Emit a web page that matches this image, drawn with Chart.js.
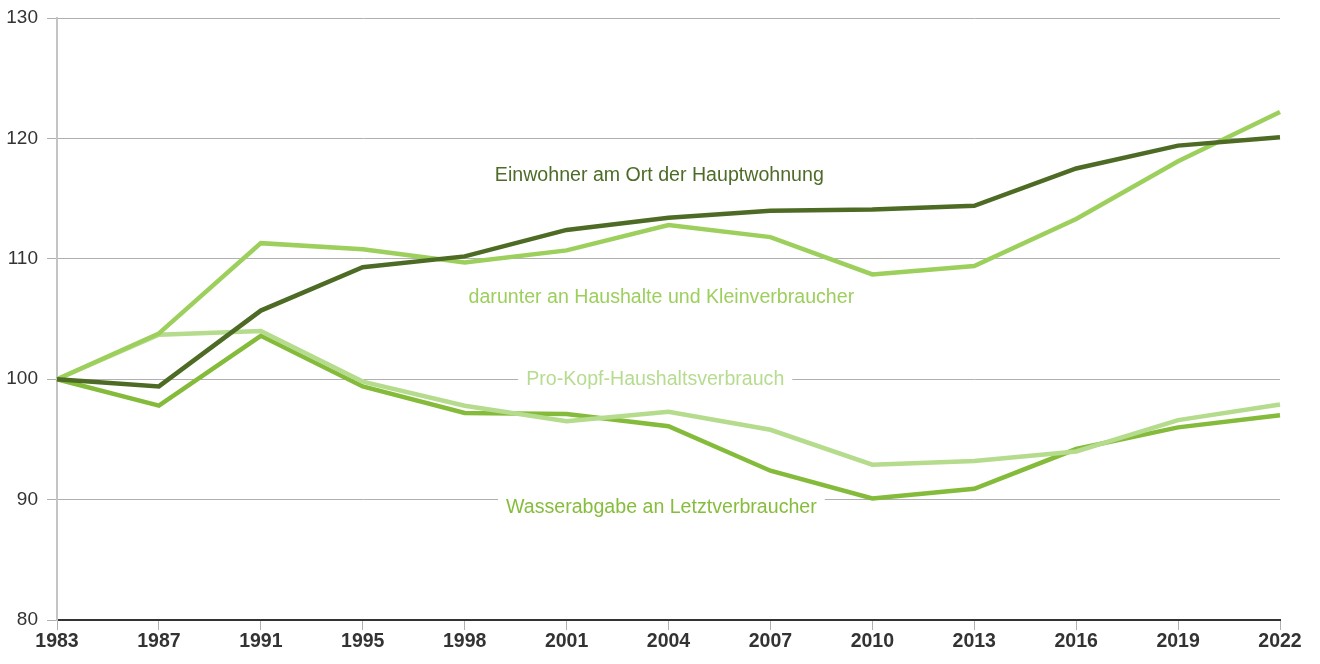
<!DOCTYPE html>
<html>
<head>
<meta charset="utf-8">
<script src="https://cdn.jsdelivr.net/npm/chart.js@4/dist/chart.umd.min.js"></script>
<style>
  html, body { margin: 0; padding: 0; background: #fff; }
  #wrap { width: 1320px; height: 664px; position: relative; }
</style>
</head>
<body>
<div id="wrap"><canvas id="waterChart"></canvas></div>
<script>
// Index 1983 = 100
const years = ["1983", "1987", "1991", "1995", "1998", "2001", "2004", "2007", "2010", "2013", "2016", "2019", "2022"];
const einwohner = [100, 99.4, 105.7, 109.3, 110.2, 112.4, 113.4, 114.0, 114.1, 114.4, 117.5, 119.4, 120.1];
const haushalte = [100, 103.8, 111.3, 110.8, 109.7, 110.7, 112.8, 111.8, 108.7, 109.4, 113.3, 118.1, 122.2];
const proKopf = [100, 103.7, 104.0, 99.8, 97.8, 96.5, 97.3, 95.8, 92.9, 93.2, 94.0, 96.6, 97.9];
const wasserabgabe = [100, 97.8, 103.6, 99.4, 97.2, 97.1, 96.1, 92.4, 90.1, 90.9, 94.2, 96.0, 97.0];
const yTicks = [80, 90, 100, 110, 120, 130];

// line labels: text, x (category index), y (value), colour
const lineLabels = [
  { text: "Einwohner am Ort der Hauptwohnung", x: 5.91, y: 116.9, color: "#4e6b28", box: false },
  { text: "darunter an Haushalte und Kleinverbraucher", x: 5.93, y: 106.8, color: "#9ccf5e", box: false },
  { text: "Pro-Kopf-Haushaltsverbrauch", x: 5.87, y: 100, color: "#b6dc8f", box: true },
  { text: "Wasserabgabe an Letztverbraucher", x: 5.93, y: 89.35, color: "#86bd3c", box: true }
];

const labelPlugin = {
  id: "lineLabels",
  afterDatasetsDraw(chart) {
    const ctx = chart.ctx;
    const xs = chart.scales.x, ys = chart.scales.y;
    ctx.save();
    ctx.font = "19.6px 'Liberation Sans', Arial, sans-serif";
    ctx.textAlign = "center";
    ctx.textBaseline = "middle";
    lineLabels.forEach(l => {
      const px = xs.getPixelForValue(l.x);
      const py = ys.getPixelForValue(l.y);
      if (l.box) {
        const w = ctx.measureText(l.text).width + 16;
        ctx.fillStyle = "#fff";
        ctx.fillRect(px - w / 2, py - 11, w, 22);
      }
      ctx.fillStyle = l.color;
      ctx.fillText(l.text, px, py);
    });
    ctx.restore();
  }
};

function ds(label, data, color) {
  return {
    label: label,
    data: data,
    borderColor: color,
    borderWidth: 4.5,
    pointRadius: 0,
    tension: 0,
    fill: false
  };
}

new Chart(document.getElementById("waterChart").getContext("2d"), {
  type: "line",
  data: {
    labels: years,
    datasets: [
      ds("Einwohner am Ort der Hauptwohnung", einwohner, "#4e6b25"),
      ds("darunter an Haushalte und Kleinverbraucher", haushalte, "#9ccf5c"),
      ds("Pro-Kopf-Haushaltsverbrauch", proKopf, "#b5db8c"),
      ds("Wasserabgabe an Letztverbraucher", wasserabgabe, "#85bb3a")
    ]
  },
  options: {
    responsive: true,
    maintainAspectRatio: false,
    animation: false,
    layout: { padding: { top: 18, right: 40, left: 0, bottom: 0 } },
    plugins: { legend: { display: false }, tooltip: { enabled: false } },
    scales: {
      x: {
        offset: false,
        grid: { drawOnChartArea: false, drawTicks: true, tickLength: 10, color: "#b0b0b0", lineWidth: 1 },
        border: { display: true, color: "#333", width: 2 },
        ticks: {
          color: "#333",
          font: { family: "'Liberation Sans', Arial, sans-serif", size: 19.5, weight: "bold" },
          padding: 0,
          maxRotation: 0,
          autoSkip: false
        },
        afterFit(scale) { scale.height = 44; }
      },
      y: {
        min: 80,
        max: 130,
        afterBuildTicks(scale) { scale.ticks = yTicks.map(v => ({ value: v })); },
        grid: { color: "#b0b0b0", lineWidth: 1, tickLength: 10 },
        border: { display: true, color: "#c4c4c4", width: 2 },
        ticks: {
          color: "#333",
          font: { family: "'Liberation Sans', Arial, sans-serif", size: 19, lineHeight: 0.9 },
          padding: 9
        },
        afterFit(scale) { scale.width = 57; }
      }
    }
  },
  plugins: [labelPlugin]
});
</script>
</body>
</html>
